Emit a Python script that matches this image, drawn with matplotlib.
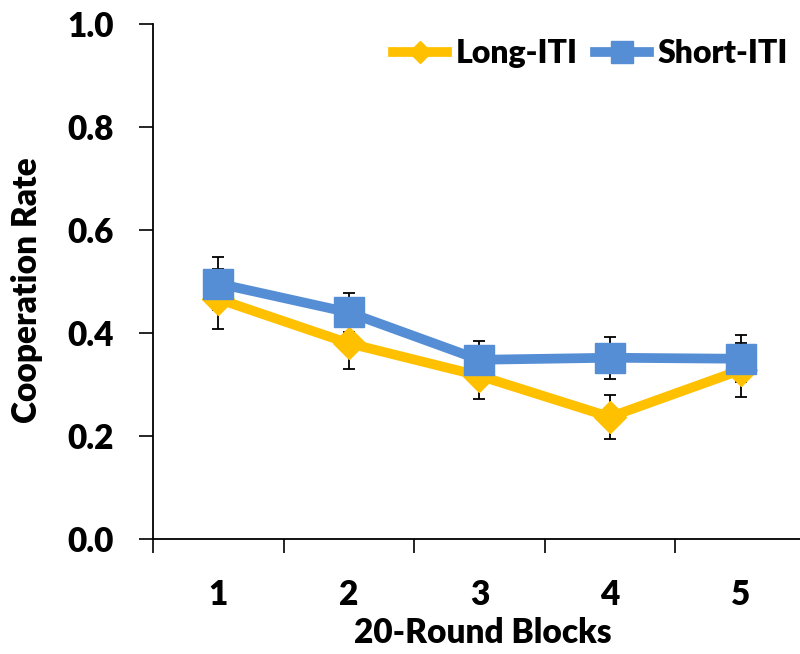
import matplotlib
matplotlib.use("Agg")
import matplotlib.pyplot as plt
import numpy as np

plt.rcParams['font.family'] = ['Lato', 'DejaVu Sans']
plt.rcParams['font.weight'] = 'heavy'

blocks = np.array([1, 2, 3, 4, 5])
block_labels = ['1', '2', '3', '4', '5']

# mean cooperation rate per 20-round block, with standard errors
long_iti = np.array([0.466, 0.380, 0.317, 0.237, 0.328])
long_err = np.array([0.058, 0.049, 0.045, 0.043, 0.052])
short_iti = np.array([0.496, 0.440, 0.348, 0.352, 0.350])
short_err = np.array([0.052, 0.038, 0.036, 0.041, 0.046])

yellow = '#FFC000'
blue = '#558ED5'

fig = plt.figure(figsize=(8, 6.54), dpi=100)
ax = fig.add_axes([0.19125, 0.1758, 0.816, 0.7875])

# error bars sit underneath the lines and markers
ax.errorbar(blocks, long_iti, yerr=long_err, fmt='none', ecolor='black',
            elinewidth=1.3, capsize=4.5, capthick=1.3, zorder=1)
ax.errorbar(blocks, short_iti, yerr=short_err, fmt='none', ecolor='black',
            elinewidth=1.3, capsize=4.5, capthick=1.3, zorder=1)

ax.plot(blocks, long_iti, color=yellow, lw=7, marker='D', ms=16,
        mec=yellow, mfc=yellow, label='Long-ITI', zorder=2)
ax.plot(blocks, short_iti, color=blue, lw=7, marker='s', ms=22,
        mec=blue, mfc=blue, label='Short-ITI', zorder=3)

ax.set_xlim(0.5, 5.5)
ax.set_ylim(0, 1.0)

# category boundaries carry the tick marks, labels sit at the centres
ax.set_xticks(np.arange(0.5, 6.0, 1.0))
ax.set_xticklabels([])
ax.set_xticks(blocks, minor=True)
ax.set_xticklabels(block_labels, minor=True)
ax.tick_params(axis='x', which='major', direction='out', length=10, width=1.2)
ax.tick_params(axis='x', which='minor', length=0, pad=29, labelsize=24)

ax.set_yticks(np.arange(0, 1.01, 0.2))
ax.set_yticklabels(['%.1f' % v for v in np.arange(0, 1.01, 0.2)])
ax.tick_params(axis='y', direction='out', length=10, width=1.2, pad=18,
               labelsize=24)

for side in ['top', 'right']:
    ax.spines[side].set_visible(False)
for side in ['left', 'bottom']:
    ax.spines[side].set_linewidth(1.3)

ax.set_xlabel('20-Round Blocks', fontsize=24, fontweight='heavy', va='center')
ax.set_ylabel('Cooperation Rate', fontsize=24, fontweight='heavy', va='center')
ax.xaxis.set_label_coords(0.505, -0.183)
ax.yaxis.set_label_coords(-0.193, 0.483)

leg = ax.legend(loc='upper right', ncol=2, frameon=False, fontsize=23,
                handlelength=1.7, handletextpad=0.25, columnspacing=0.55,
                bbox_to_anchor=(1.016, 1.027), markerscale=0.7)

fig.savefig('out.png', dpi=100)
